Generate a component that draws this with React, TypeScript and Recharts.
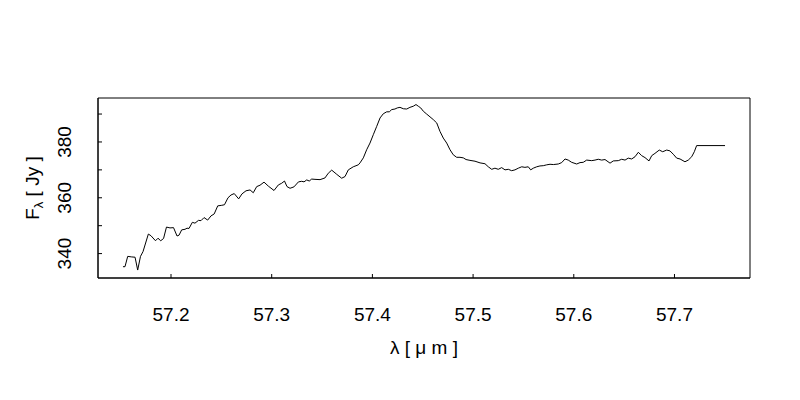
import React from 'react';
import { LineChart, Line, XAxis, YAxis, ReferenceArea } from 'recharts';

const WAVELENGTH = [
  57.1523, 57.1543, 57.1570, 57.1610, 57.1643, 57.1669, 57.1697, 57.1722, 57.1775, 57.1801,
  57.1846, 57.1871, 57.1898, 57.1926, 57.1955, 57.1990, 57.2025, 57.2060, 57.2080, 57.2106,
  57.2139, 57.2159, 57.2179, 57.2212, 57.2238, 57.2273, 57.2298, 57.2328, 57.2364, 57.2397,
  57.2429, 57.2464, 57.2504, 57.2531, 57.2566, 57.2596, 57.2628, 57.2672, 57.2705, 57.2745,
  57.2785, 57.2817, 57.2851, 57.2884, 57.2924, 57.2966, 57.3023, 57.3066, 57.3099, 57.3127,
  57.3152, 57.3182, 57.3221, 57.3266, 57.3298, 57.3321, 57.3348, 57.3373, 57.3397, 57.3430,
  57.3480, 57.3529, 57.3562, 57.3596, 57.3646, 57.3695, 57.3728, 57.3761, 57.3810, 57.3860,
  57.3877, 57.3910, 57.3943, 57.3976, 57.4009, 57.4043, 57.4076, 57.4108, 57.4142, 57.4168,
  57.4192, 57.4224, 57.4247, 57.4274, 57.4307, 57.4341, 57.4373, 57.4406, 57.4433, 57.4456,
  57.4480, 57.4506, 57.4539, 57.4572, 57.4605, 57.4639, 57.4671, 57.4704, 57.4738, 57.4771,
  57.4803, 57.4837, 57.4870, 57.4903, 57.4930, 57.4969, 57.5019, 57.5069, 57.5118, 57.5151,
  57.5185, 57.5217, 57.5250, 57.5284, 57.5317, 57.5350, 57.5383, 57.5416, 57.5449, 57.5483,
  57.5515, 57.5548, 57.5572, 57.5598, 57.5632, 57.5664, 57.5697, 57.5731, 57.5764, 57.5797,
  57.5846, 57.5880, 57.5913, 57.5945, 57.5979, 57.6029, 57.6062, 57.6094, 57.6128, 57.6178,
  57.6211, 57.6243, 57.6277, 57.6310, 57.6360, 57.6392, 57.6442, 57.6476, 57.6509, 57.6541,
  57.6575, 57.6608, 57.6641, 57.6674, 57.6707, 57.6747, 57.6774, 57.6806, 57.6849, 57.6883,
  57.6923, 57.6955, 57.6988, 57.7022, 57.7055, 57.7104, 57.7137, 57.7171, 57.7197, 57.7220,
  57.7502,
];

const FLUX = [
  335.3, 335.3, 339.0, 338.8, 338.7, 334.1, 339.0, 340.7, 347.0, 346.4,
  344.6, 345.5, 344.6, 345.4, 349.5, 349.2, 349.3, 346.3, 346.6, 348.5,
  348.7, 349.1, 349.0, 351.2, 350.9, 351.9, 351.8, 352.9, 352.0, 353.5,
  354.2, 357.1, 357.3, 357.5, 360.0, 361.0, 361.5, 359.6, 361.4, 362.5,
  362.8, 361.8, 364.0, 364.5, 365.6, 364.2, 362.6, 364.6, 365.2, 366.0,
  364.0, 363.4, 363.9, 365.7, 365.9, 365.7, 366.4, 366.0, 366.7, 366.6,
  366.5, 367.1, 368.8, 369.9, 368.4, 367.0, 367.6, 370.0, 371.1, 371.8,
  372.5, 374.3, 377.2, 379.6, 382.6, 385.6, 388.6, 390.1, 390.8, 390.8,
  391.6, 391.8, 392.2, 392.4, 391.9, 391.8, 392.4, 392.8, 393.4, 392.8,
  392.2, 391.0, 390.0, 389.0, 388.0, 386.8, 383.8, 381.4, 379.6, 377.2,
  375.4, 374.5, 374.5, 374.3, 373.7, 373.4, 373.1, 372.5, 372.2, 371.1,
  370.2, 370.6, 370.2, 370.8, 370.0, 370.2, 369.7, 370.0, 370.6, 371.1,
  370.9, 371.1, 370.0, 370.6, 371.1, 371.4, 371.5, 371.8, 372.0, 371.9,
  372.1, 372.6, 373.9, 373.5, 372.7, 372.1, 372.6, 372.7, 373.5, 373.3,
  373.5, 373.8, 373.5, 373.7, 372.4, 373.2, 373.3, 373.8, 373.5, 374.2,
  373.9, 374.7, 376.3, 375.1, 374.4, 373.2, 375.1, 375.9, 377.1, 376.5,
  377.1, 376.8, 375.6, 374.2, 373.9, 372.9, 373.5, 374.7, 376.5, 378.7,
  378.7,
];

const X_TICKS = [57.2, 57.3, 57.4, 57.5, 57.6, 57.7];
const Y_TICKS = [340, 350, 360, 370, 380, 390];
const Y_LABELED = [340, 360, 380];
const X_DOMAIN: [number, number] = [57.1275, 57.775];
const Y_DOMAIN: [number, number] = [331.25, 395.75];

const data = WAVELENGTH.map((x, i) => ({ x, y: FLUX[i] }));

const FONT = '"Liberation Sans", Arial, Helvetica, sans-serif';
const FS = 19;
const X_MARGIN = 30;
const Y_MARGIN = 27;
const TICK_LEN = 4;

const XTick = (props: any) => {
  const { x, y, payload } = props;
  const axisY = y - X_MARGIN;
  return (
    <g>
      <line x1={x} x2={x} y1={axisY} y2={axisY - TICK_LEN} stroke="#000" strokeWidth={1} />
      <text x={x} y={y} dy="0.71em" textAnchor="middle" fontSize={FS} fontFamily={FONT} fill="#000">
        {Number(payload.value).toFixed(1)}
      </text>
    </g>
  );
};

const YTick = (props: any) => {
  const { x, y, payload } = props;
  const axisX = x + Y_MARGIN;
  return (
    <g>
      <line x1={axisX} x2={axisX + TICK_LEN} y1={y} y2={y} stroke="#000" strokeWidth={1} />
      {Y_LABELED.includes(payload.value) ? (
        <text
          x={x}
          y={y}
          transform={`rotate(-90 ${x} ${y})`}
          textAnchor="middle"
          fontSize={FS}
          fontFamily={FONT}
          fill="#000"
        >
          {payload.value}
        </text>
      ) : null}
    </g>
  );
};

const XLabel = (props: any) => {
  const vb = props.viewBox || {};
  const cx = vb.x + vb.width / 2;
  return (
    <text x={cx} y={354} textAnchor="middle" fontSize={FS} fontFamily={FONT} fill="#000">
      λ [ μ m ]
    </text>
  );
};

const YLabel = () => {
  const x = 39;
  const y = 188;
  return (
    <text
      x={x}
      y={y}
      transform={`rotate(-90 ${x} ${y})`}
      textAnchor="middle"
      fontSize={FS}
      fontFamily={FONT}
      fill="#000"
    >
      <tspan>F</tspan>
      <tspan fontSize={13} dy={4}>λ</tspan>
      <tspan dy={-4}> [ Jy ]</tspan>
    </text>
  );
};

export default function App() {
  return (
    <div style={{ position: 'absolute', left: 0, top: 0, width: 800, height: 400, background: '#fff' }}>
      <LineChart
        width={800}
        height={400}
        data={data}
        margin={{ top: 98, right: 50, bottom: 92, left: 38 }}
      >
        <XAxis
          type="number"
          dataKey="x"
          domain={X_DOMAIN}
          ticks={X_TICKS}
          allowDataOverflow
          tickSize={0}
          tickMargin={X_MARGIN}
          height={30}
          axisLine={{ stroke: '#000' }}
          tickLine={false}
          tick={<XTick />}
          label={<XLabel />}
        />
        <YAxis
          type="number"
          domain={Y_DOMAIN}
          ticks={Y_TICKS}
          allowDataOverflow
          tickSize={0}
          tickMargin={Y_MARGIN}
          width={60}
          axisLine={{ stroke: '#000' }}
          tickLine={false}
          tick={<YTick />}
          label={<YLabel />}
        />
        <ReferenceArea
          x1={X_DOMAIN[0]}
          x2={X_DOMAIN[1]}
          y1={Y_DOMAIN[0]}
          y2={Y_DOMAIN[1]}
          fill="none"
          stroke="#000"
          strokeWidth={1}
          ifOverflow="extendDomain"
        />
        <Line
          type="linear"
          dataKey="y"
          stroke="#000"
          strokeWidth={1}
          dot={false}
          isAnimationActive={false}
        />
      </LineChart>
    </div>
  );
}
